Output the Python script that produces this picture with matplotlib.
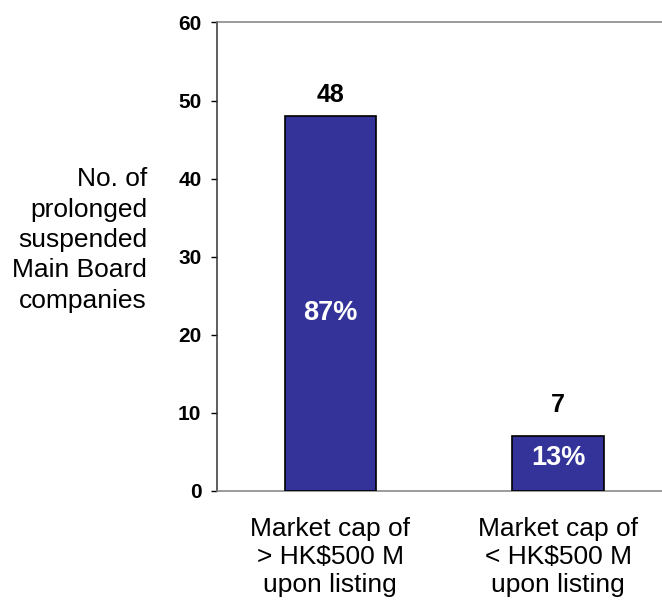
import matplotlib.pyplot as plt

plt.rcParams['font.family'] = ['Liberation Sans', 'DejaVu Sans']

categories = ['Market cap of\n> HK$500 M\nupon listing', 'Market cap of\n< HK$500 M\nupon listing']
counts = [48, 7]
shares = ['87%', '13%']

fig = plt.figure(figsize=(6.62, 6.01), dpi=100)
ax = fig.add_axes([0.328, 0.1835, 0.672, 0.7791])

x = range(len(counts))
ax.bar(x, counts, 0.40, color='#333399', edgecolor='black', linewidth=1.2, zorder=3)

# value labels above bars, share labels inside
label_off = [14, 24]
share_y = [22.8, 4.2]
for i, v in enumerate(counts):
    ax.annotate(str(v), (i, v), xytext=(0, label_off[i]), textcoords='offset pixels',
                ha='center', va='baseline', fontsize=18, fontweight='bold')
    ax.text(i, share_y[i], shares[i], ha='center', va='center', color='white',
            fontsize=19.5, fontweight='bold', zorder=4)

ax.set_xlim(-0.496, 1.456)
ax.set_ylim(0, 60)
ax.set_yticks(range(0, 61, 10))
ax.set_xticks(list(x))
ax.set_xticklabels(categories, fontsize=19, linespacing=1.22)
ax.tick_params(axis='x', length=0, pad=19)
ax.tick_params(axis='y', length=4.3, width=1, pad=7, labelsize=15)
for lbl in ax.get_yticklabels():
    lbl.set_fontweight('bold')

ax.spines['right'].set_visible(False)
ax.spines['top'].set_color('#808080')
ax.spines['bottom'].set_color('#808080')
ax.spines['left'].set_color('#333333')
for s in ax.spines.values():
    s.set_linewidth(1.1)

fig.text(147 / 662, 1 - 240 / 601, 'No. of\nprolonged\nsuspended\nMain Board\ncompanies',
         ha='right', va='center', fontsize=19, linespacing=1.33)

fig.savefig('out.png')
